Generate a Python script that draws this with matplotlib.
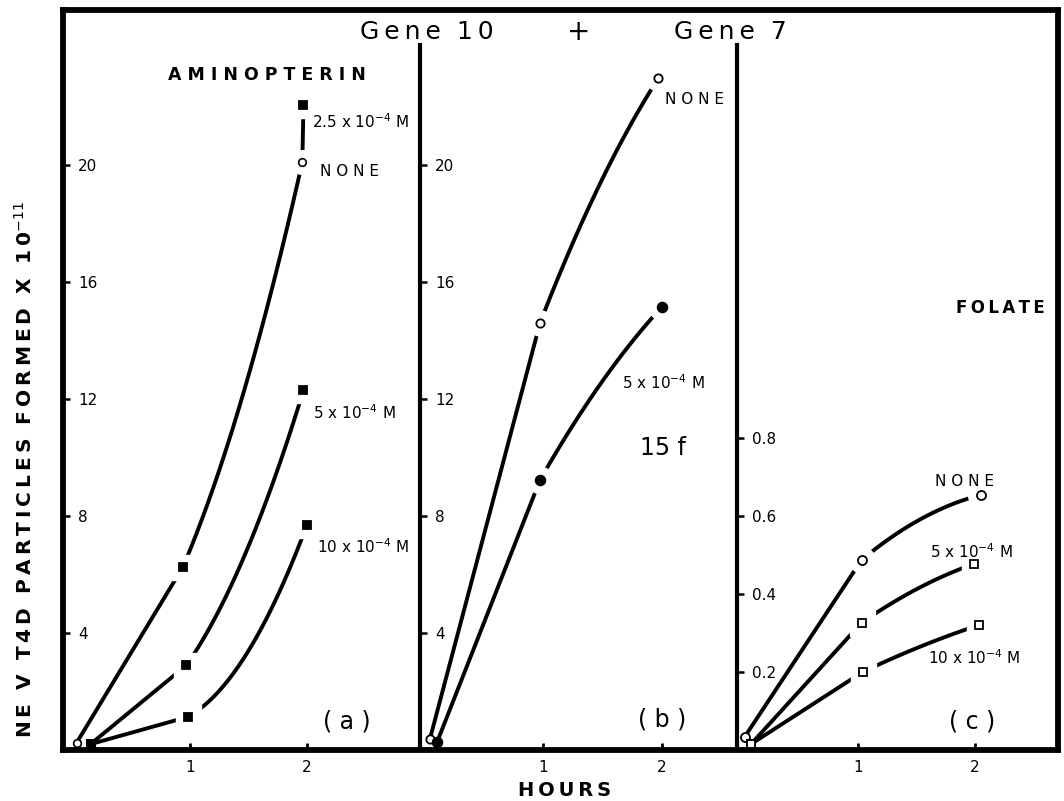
import numpy as np
import matplotlib
matplotlib.use("Agg")
import matplotlib.pyplot as plt

# ---------------- data (time in hours, particles formed x 1e-11) ----------------
# panel (a) aminopterin
a_none_t = [0.03, 1.96]
a_none_v = [0.24, 20.1]
a_25_t = [0.15, 0.94, 1.97]
a_25_v = [0.20, 6.26, 22.05]
a_5_t = [0.15, 0.97, 1.97]
a_5_v = [0.20, 2.90, 12.3]
a_10_t = [0.15, 0.98, 2.00]
a_10_v = [0.20, 1.13, 7.7]
# panel (b) 15f
b_none_t = [0.05, 0.975, 1.97]
b_none_v = [0.38, 14.6, 22.97]
b_5_t = [0.11, 0.975, 2.00]
b_5_v = [0.27, 9.23, 15.15]
# panel (c) folate
c_none_t = [0.03, 1.03, 2.05]
c_none_v = [0.033, 0.487, 0.654]
c_5_t = [0.085, 1.03, 1.99]
c_5_v = [0.015, 0.326, 0.477]
c_10_t = [0.085, 1.04, 2.03]
c_10_v = [0.015, 0.200, 0.320]

ab_yticks = [4, 8, 12, 16, 20]
c_yticks = [0.2, 0.4, 0.6, 0.8]
x_ticks = [1, 2]

W, H = 1064, 801
fig = plt.figure(figsize=(W / 100, H / 100), dpi=100)
plt.rcParams['font.family'] = ['DejaVu Sans']


def P(px, py):
    return (px / W, 1 - py / H)


def box(x0, x1, y_top, y_bot):
    return [x0 / W, 1 - y_bot / H, (x1 - x0) / W, (y_bot - y_top) / H]


def path(ts, vs, w, curved=(1,), n=60):
    """Straight segments, except those in `curved`, drawn as a quadratic whose
    start slope blends the previous segment's slope with the chord."""
    ts = list(map(float, ts)); vs = list(map(float, vs))
    X = [ts[0]]; Y = [vs[0]]
    for i in range(len(ts) - 1):
        t0, t1 = ts[i], ts[i + 1]
        v0, v1 = vs[i], vs[i + 1]
        dt = t1 - t0
        if i in curved and i > 0:
            mp = (vs[i] - vs[i - 1]) / (ts[i] - ts[i - 1])
            ch = (v1 - v0) / dt
            m = w * mp + (1 - w) * ch
            c = (v1 - v0 - m * dt) / dt ** 2
            s = np.linspace(0, dt, n)[1:]
            X.extend(t0 + s); Y.extend(v0 + m * s + c * s ** 2)
        else:
            X.append(t1); Y.append(v1)
    return np.array(X), np.array(Y)


def sp(s, g="\u2009"):
    return g.join(list(s))


LW = 2.8
TOP = 45
BOT = 750

# frame
axf = fig.add_axes(box(63, 1058, 10, BOT))
axf.set_facecolor('none')
axf.set_xticks([]); axf.set_yticks([])
for s in axf.spines.values():
    s.set_linewidth(4.2)
axf.set_zorder(5)


def make_panel(x0, x1, zero_px, px_per_hr, ymax):
    ax = fig.add_axes(box(x0, x1, TOP, BOT))
    ax.set_facecolor('none')
    ax.set_xlim((x0 - zero_px) / px_per_hr, (x1 - zero_px) / px_per_hr)
    ax.set_ylim(0, ymax)
    for k in ['top', 'right', 'bottom']:
        ax.spines[k].set_visible(False)
    ax.spines['left'].set_linewidth(3.0)
    ax.set_xticks(x_ticks)
    ax.set_xticklabels([str(t) for t in x_ticks], fontsize=11)
    ax.tick_params(axis='x', direction='in', length=5, width=2, pad=7)
    ax.tick_params(axis='y', direction='in', length=5, width=1.8, pad=-11, labelsize=11)
    return ax


ax_a = make_panel(63, 420, 73, 117, (BOT - TOP) / 29.25)
ax_a.spines['left'].set_visible(False)
ax_b = make_panel(420, 737, 424, 119, (BOT - TOP) / 29.25)
ax_c = make_panel(737, 1058, 741, 117, (BOT - TOP) / 390.0)

for ax in (ax_a, ax_b):
    ax.set_yticks(ab_yticks)
    ax.set_yticklabels([str(v) for v in ab_yticks])
ax_c.set_yticks(c_yticks)
ax_c.set_yticklabels([f"{v:.1f}" for v in c_yticks])
for ax in (ax_a, ax_b, ax_c):
    for lbl in ax.get_yticklabels():
        lbl.set_horizontalalignment('left')


def curve(ax, xs, ys, w, curved=(1,)):
    cx, cy = path(xs, ys, w, curved)
    ax.plot(cx, cy, color='black', lw=LW, solid_capstyle='butt',
            solid_joinstyle='round', zorder=2)


def marks(ax, t, v, marker, filled, ms, halo=True):
    t = np.asarray(t); v = np.asarray(v)
    if halo:
        ax.plot(t[1:], v[1:], marker, ms=ms + 12, color='white', mec='white', zorder=3)
    ax.plot(t, v, marker, ms=ms, mfc='black' if filled else 'white', mec='black',
            mew=1.3, zorder=4, linestyle='none')


# panel a curves (concave up)
curve(ax_a, [a_none_t[0], a_25_t[1], a_none_t[1], a_25_t[2]],
      [a_none_v[0], a_25_v[1], a_none_v[1], a_25_v[2]], 0.6)
curve(ax_a, a_5_t, a_5_v, 0.6)
curve(ax_a, a_10_t, a_10_v, 0.8)
marks(ax_a, a_25_t, a_25_v, 's', True, 6)
marks(ax_a, a_5_t, a_5_v, 's', True, 6)
marks(ax_a, a_10_t, a_10_v, 's', True, 6)
ax_a.plot(a_none_t[1], a_none_v[1], 'o', ms=17, color='white', zorder=3)
ax_a.plot(a_none_t, a_none_v, 'o', ms=5.5, mfc='white', mec='black', mew=1.2, zorder=4)

# panel b
curve(ax_b, b_none_t, b_none_v, 0.3)
curve(ax_b, b_5_t, b_5_v, 0.3)
marks(ax_b, b_none_t, b_none_v, 'o', False, 6)
marks(ax_b, b_5_t, b_5_v, 'o', True, 7)

# panel c
curve(ax_c, c_none_t, c_none_v, 0.3)
curve(ax_c, c_5_t, c_5_v, 0.3)
curve(ax_c, c_10_t, c_10_v, 0.3)
marks(ax_c, c_none_t, c_none_v, 'o', False, 6.5)
marks(ax_c, c_5_t, c_5_v, 's', False, 6)
marks(ax_c, c_10_t, c_10_v, 's', False, 6)

# ---------------- texts ----------------
def T(px, py, s, size=11, ha='left', va='center', weight='normal', **kw):
    fig.text(*P(px, py), s, fontsize=size, ha=ha, va=va, fontweight=weight, **kw)


T(360, 32, sp("Gene") + "  " + sp("10"), size=18)
T(579, 32, "+", size=20, ha='center')
T(787, 32, sp("Gene") + "  " + sp("7"), size=18, ha='right')

ylab = "  ".join(sp(w) for w in ["NE", "V", "T4D", "PARTICLES", "FORMED", "X"]) + "  " + sp("10") + r"$^{-11}$"
T(25, 470, ylab, size=14.5, ha='center', rotation=90, weight='bold')

T(168, 75, sp("AMINOPTERIN", " "), size=12.5, weight='bold')
T(312, 122, r"2.5 x 10$^{-4}$ M", size=11)
T(320, 172, sp("NONE", " "), size=11)
T(313, 413, r"5 x 10$^{-4}$ M", size=11)
T(317, 547, r"10 x 10$^{-4}$ M", size=11)
T(347, 722, "( a )", size=17, ha='center')

T(665, 100, sp("NONE", " "), size=11)
T(622, 383, r"5 x 10$^{-4}$ M", size=11)
T(640, 448, "15 f", size=17)
T(662, 720, "( b )", size=17, ha='center')

T(1000, 308, sp("FOLATE"), size=12, weight='bold', ha='center')
T(935, 482, sp("NONE", " "), size=11)
T(930, 552, r"5 x 10$^{-4}$ M", size=11)
T(928, 658, r"10 x 10$^{-4}$ M", size=11)
T(972, 722, "( c )", size=17, ha='center')

T(565, 790, sp("HOURS"), size=14, weight='bold', ha='center')

fig.savefig("out.png", dpi=100, facecolor='white')
